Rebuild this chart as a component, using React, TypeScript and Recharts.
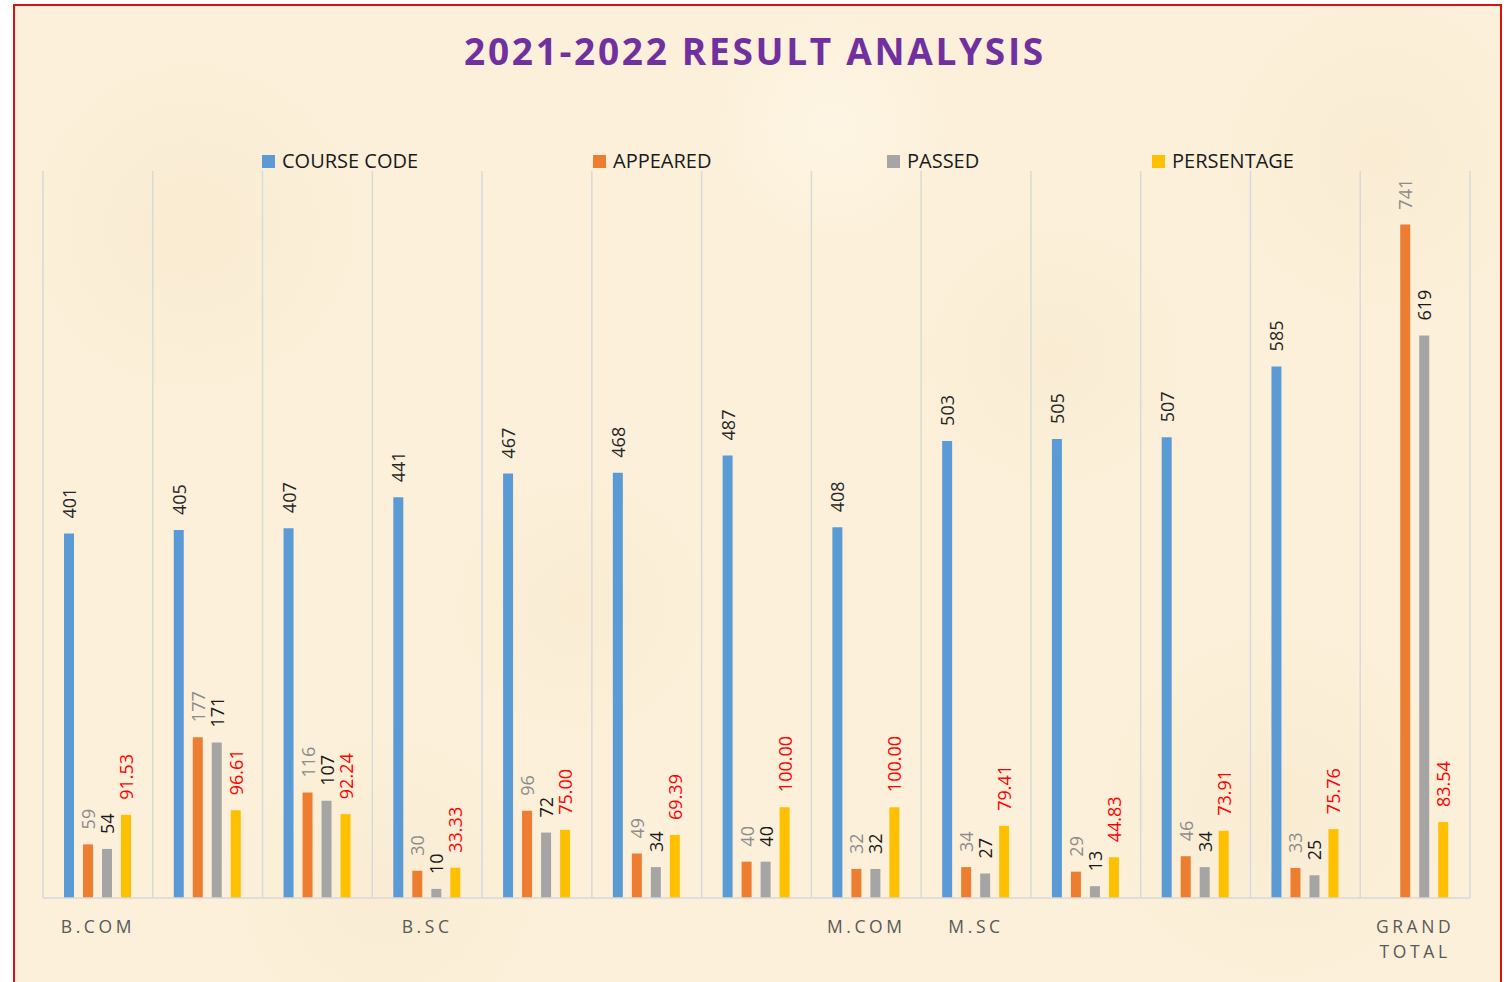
import React from 'react';
import { BarChart, Bar, XAxis, YAxis, CartesianGrid, Legend, LabelList } from 'recharts';

const categories = ['B.COM', '', '', 'B.SC', '', '', '', 'M.COM', 'M.SC', '', '', '', 'GRAND TOTAL'];
const courseCode = [401, 405, 407, 441, 467, 468, 487, 408, 503, 505, 507, 585, null];
const appeared = [59, 177, 116, 30, 96, 49, 40, 32, 34, 29, 46, 33, 741];
const passed = [54, 171, 107, 10, 72, 34, 40, 32, 27, 13, 34, 25, 619];
const persentage = [91.53, 96.61, 92.24, 33.33, 75.0, 69.39, 100.0, 100.0, 79.41, 44.83, 73.91, 75.76, 83.54];

const rows = categories.map((name, i) => ({
  id: i,
  name,
  course: courseCode[i],
  appeared: appeared[i],
  passed: passed[i],
  pct: persentage[i],
}));

const series = [
  { key: 'course', name: 'COURSE CODE', color: '#5B9BD5', labelColor: '#262626', decimals: 0 },
  { key: 'appeared', name: 'APPEARED', color: '#ED7D31', labelColor: '#8C8C8C', decimals: 0 },
  { key: 'passed', name: 'PASSED', color: '#A5A5A5', labelColor: '#1a1a1a', decimals: 0 },
  { key: 'pct', name: 'PERSENTAGE', color: '#FFC000', labelColor: '#FF0000', decimals: 2 },
];

const legendX = [262, 593, 887, 1152];
const font = '"Open Sans", sans-serif';

// rotated value label sitting above each bar
const makeLabel = (color: string, decimals: number) => (props: any) => {
  const { x, y, width, value } = props;
  if (value == null) return null;
  const cx = x + width / 2;
  const cy = y - 15;
  return (
    <text
      x={cx}
      y={cy}
      transform={`rotate(-90, ${cx}, ${cy})`}
      textAnchor="start"
      dominantBaseline="central"
      fill={color}
      fontSize={18}
      fontFamily={font}
    >
      {Number(value).toFixed(decimals)}
    </text>
  );
};

const CategoryTick = (props: any) => {
  const { x, y, payload } = props;
  const words = String(categories[payload.value] || '').split(' ');
  return (
    <text x={x} y={y + 27} textAnchor="middle" fill="#595959" fontSize={17.5} fontFamily={font} letterSpacing={3.6}>
      {words.map((w, i) => (
        <tspan key={i} x={x} dy={i === 0 ? 0 : 25}>
          {w}
        </tspan>
      ))}
    </text>
  );
};

const LegendContent = () => (
  <div style={{ position: 'relative', width: 1510, height: 24 }}>
    {series.map((s, i) => (
      <div
        key={s.key}
        style={{
          position: 'absolute',
          left: legendX[i],
          top: 0,
          display: 'flex',
          alignItems: 'center',
          fontFamily: font,
          fontSize: 20,
          lineHeight: '20px',
          color: '#1a1a1a',
          whiteSpace: 'nowrap',
        }}
      >
        <span style={{ display: 'inline-block', width: 13, height: 13, background: s.color, marginRight: 7 }} />
        {s.name}
      </div>
    ))}
  </div>
);

const parchment = [
  'radial-gradient(circle at 12% 22%, rgba(240,220,182,0.22), transparent 12%)',
  'radial-gradient(circle at 38% 60%, rgba(240,220,182,0.18), transparent 13%)',
  'radial-gradient(circle at 70% 35%, rgba(240,220,182,0.18), transparent 12%)',
  'radial-gradient(circle at 85% 80%, rgba(240,220,182,0.2), transparent 13%)',
  'radial-gradient(circle at 25% 88%, rgba(240,220,182,0.18), transparent 12%)',
  'radial-gradient(circle at 55% 12%, rgba(255,252,242,0.4), transparent 10%)',
  'radial-gradient(circle at 92% 15%, rgba(240,220,182,0.18), transparent 11%)',
].join(', ');

export default function App() {
  return (
    <div style={{ position: 'absolute', left: 0, top: 0, width: 1510, height: 982, overflow: 'hidden', background: '#ffffff' }}>
      <div
        style={{
          position: 'absolute',
          left: 13,
          top: 4,
          width: 1485,
          height: 1000,
          border: '2px solid #D41414',
          backgroundColor: '#FCF0DA',
          backgroundImage: parchment,
        }}
      />
      <div
        style={{
          position: 'absolute',
          left: 0,
          top: 32,
          width: 1510,
          textAlign: 'center',
          fontFamily: font,
          fontWeight: 700,
          fontSize: 37,
          lineHeight: '37px',
          letterSpacing: 2.7,
          color: '#7030A0',
        }}
      >
        2021-2022 RESULT ANALYSIS
      </div>
      <BarChart
        width={1510}
        height={982}
        data={rows}
        margin={{ top: 171, right: 40, bottom: 54, left: 43 }}
        barSize={10}
        barGap={9}
        style={{ position: 'absolute', left: 0, top: 0 }}
      >
        <CartesianGrid
          horizontal={false}
          stroke="#D9D9D9"
          strokeWidth={1.5}
          verticalCoordinatesGenerator={({ offset }: any) =>
            categories.map((_, i) => offset.left + (i * offset.width) / categories.length).concat(offset.left + offset.width)
          }
        />
        <XAxis
          dataKey="id"
          type="category"
          axisLine={{ stroke: '#D9D9D9', strokeWidth: 1.5 }}
          tickLine={false}
          interval={0}
          tick={<CategoryTick />}
        />
        <YAxis hide domain={[0, 800]} />
        <Legend
          layout="horizontal"
          verticalAlign="middle"
          align="center"
          content={<LegendContent />}
          wrapperStyle={{ position: 'absolute', top: 151, left: 0, width: 1510 }}
        />
        {series.map((s) => (
          <Bar key={s.key} dataKey={s.key} name={s.name} fill={s.color} isAnimationActive={false}>
            <LabelList dataKey={s.key} content={makeLabel(s.labelColor, s.decimals)} />
          </Bar>
        ))}
      </BarChart>
    </div>
  );
}
